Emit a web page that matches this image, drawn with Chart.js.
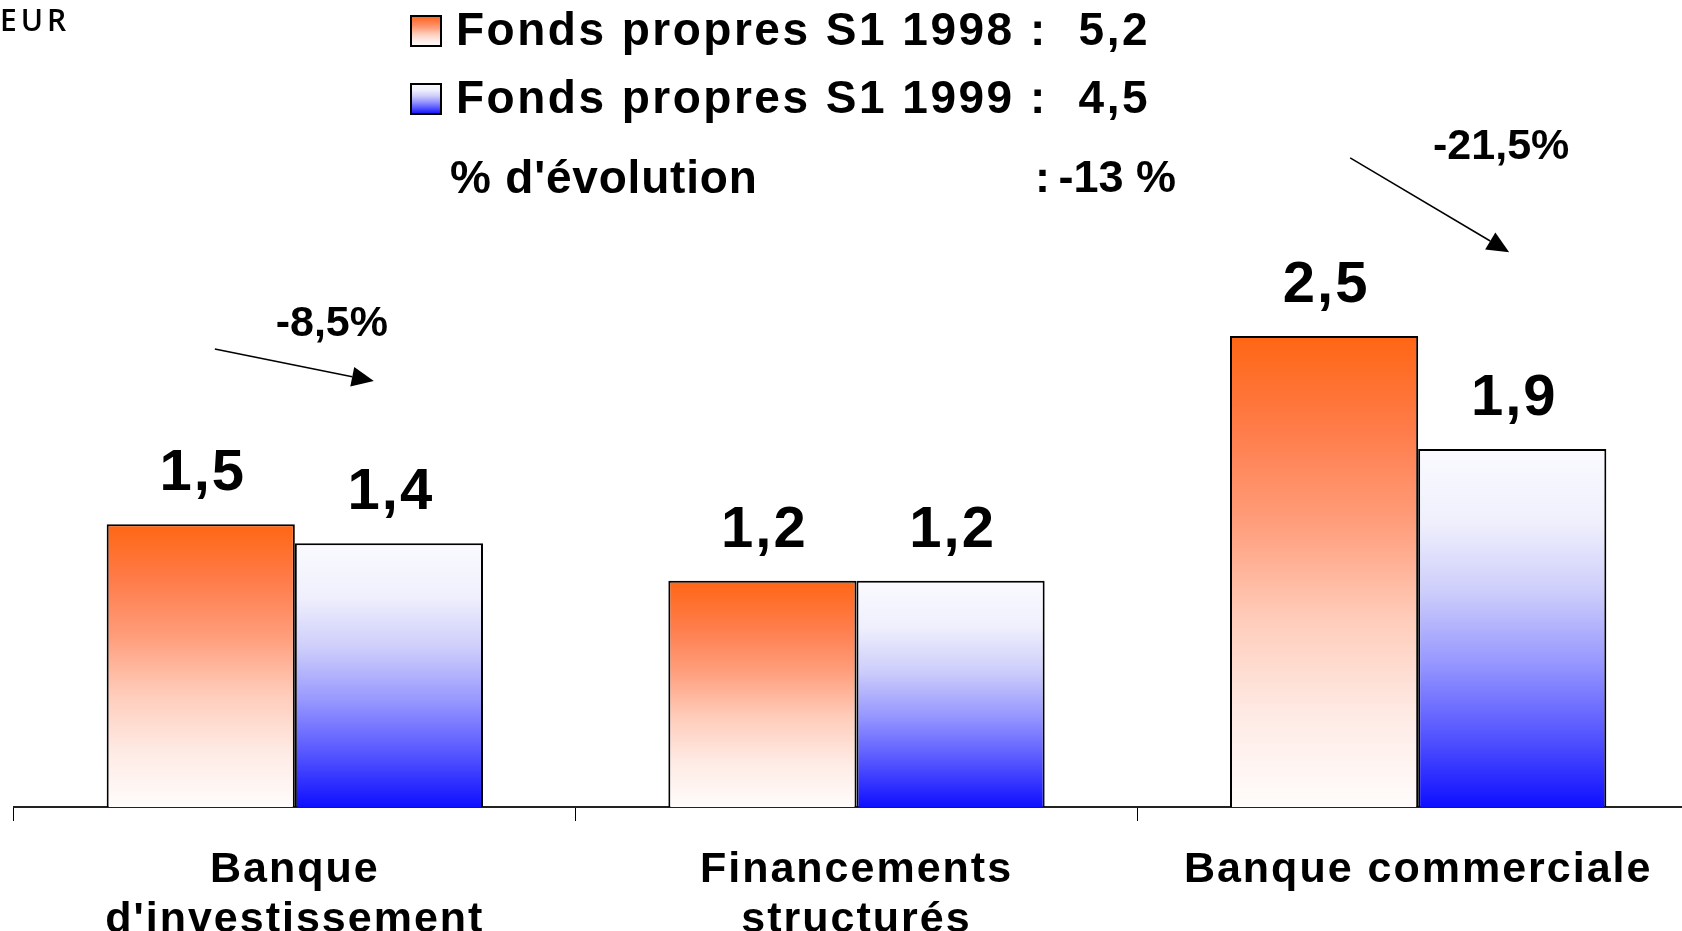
<!DOCTYPE html>
<html>
<head>
<meta charset="utf-8">
<script src="https://cdn.jsdelivr.net/npm/chart.js@4"></script>
<style>
  html, body { margin: 0; padding: 0; background: #fff; overflow: hidden; }
  #wrap { width: 1682px; height: 931px; overflow: hidden; position: relative; }
  canvas { display: block; }
</style>
</head>
<body>
<div id="wrap"><canvas id="chart" width="1700" height="931"></canvas></div>
<script>
// --- Données ---
const categories = [['Banque', "d'investissement"], ['Financements', 'structurés'], ['Banque commerciale']];
const seriesNames = ['Fonds propres S1 1998', 'Fonds propres S1 1999'];
const values1998 = [1.5, 1.2, 2.5];
const values1999 = [1.4, 1.2, 1.9];
const seriesTotals = [5.2, 4.5];
const evolutionLabel = "% d'évolution";
const evolutionTotal = '-13 %';
const changeLabels = ['-8,5%', '', '-21,5%'];
const unitLabel = 'EUR';

// --- Dégradés ---
const orangeStops = [[0, '#FF6614'], [0.2, '#FF7C4A'], [0.4, '#FF9E7C'], [0.6, '#FFCCBA'], [0.8, '#FEEAE4'], [1, '#FFFCFB']];
const blueStops = [[0, '#FAFAFF'], [0.2, '#F0F0FD'], [0.4, '#CDCDFB'], [0.6, '#9696FF'], [0.8, '#5555FF'], [1, '#0F0FFF']];

const fmt = (v) => String(v).replace('.', ',');

function makeGradient(ctx, top, bottom, stops) {
    const g = ctx.createLinearGradient(0, top, 0, bottom);
    stops.forEach(([p, c]) => g.addColorStop(p, c));
    return g;
}

function barFill(stops) {
    return (c) => {
        const chart = c.chart;
        if (!chart.chartArea || c.type !== 'data') return stops[2][1];
        const y = chart.scales.y;
        return makeGradient(chart.ctx, y.getPixelForValue(c.parsed.y), y.getPixelForValue(0), stops);
    };
}

// --- Légende, étiquettes et flèches ---
const decorPlugin = {
    id: 'decor',
    beforeDraw(chart) {
        // espacement des lettres pour les libellés de l'axe
        chart.ctx.letterSpacing = '2px';
    },
    beforeDatasetsDraw(chart) {
        chart.ctx.letterSpacing = '0px';
    },
    afterDatasetsDraw(chart) {
        const ctx = chart.ctx;
        const x = chart.scales.x, y = chart.scales.y;
        ctx.save();
        ctx.fillStyle = '#000';

        // valeurs au-dessus des barres
        ctx.font = 'bold 58px "Liberation Sans", Arial, sans-serif';
        ctx.letterSpacing = '2px';
        ctx.textAlign = 'center';
        ctx.textBaseline = 'alphabetic';
        chart.data.datasets.forEach((ds, di) => {
            chart.getDatasetMeta(di).data.forEach((bar, i) => {
                ctx.fillText(fmt(ds.data[i]), bar.x + 2, bar.y - 34);
            });
        });

        // flèches d'évolution
        const arrows = [
            { i: 0, dx1: -80, v1: 2.43, dx2: 79, v2: 2.26, tdx: 37, tv: 2.565 },
            { i: 2, dx1: -68, v1: 3.445, dx2: 91, v2: 2.944, tdx: 83, tv: 3.5 }
        ];
        ctx.letterSpacing = '0px';
        ctx.font = 'bold 43px "Liberation Sans", Arial, sans-serif';
        ctx.textBaseline = 'middle';
        arrows.forEach(a => {
            const cx = x.getPixelForValue(a.i);
            const x1 = cx + a.dx1, y1 = y.getPixelForValue(a.v1);
            const x2 = cx + a.dx2, y2 = y.getPixelForValue(a.v2);
            const ang = Math.atan2(y2 - y1, x2 - x1);
            const len = 22, hw = 10;
            const bx = x2 - len * Math.cos(ang), by = y2 - len * Math.sin(ang);
            ctx.strokeStyle = '#000';
            ctx.lineWidth = 1.5;
            ctx.beginPath();
            ctx.moveTo(x1, y1);
            ctx.lineTo(bx, by);
            ctx.stroke();
            ctx.beginPath();
            ctx.moveTo(x2, y2);
            ctx.lineTo(bx + hw * Math.sin(ang), by - hw * Math.cos(ang));
            ctx.lineTo(bx - hw * Math.sin(ang), by + hw * Math.cos(ang));
            ctx.closePath();
            ctx.fill();
            ctx.fillText(changeLabels[a.i], cx + a.tdx, y.getPixelForValue(a.tv));
        });

        // légende
        const stops = [orangeStops, blueStops];
        const rows = [31, 99];
        ctx.textAlign = 'left';
        rows.forEach((ry, k) => {
            ctx.fillStyle = makeGradient(ctx, ry - 15, ry + 15, stops[k]);
            ctx.fillRect(411, ry - 15, 30, 30);
            ctx.strokeStyle = '#000';
            ctx.lineWidth = 2;
            ctx.strokeRect(411, ry - 15, 30, 30);
            ctx.fillStyle = '#000';
            ctx.font = 'bold 46px "Liberation Sans", Arial, sans-serif';
            ctx.letterSpacing = '2.5px';
            ctx.textAlign = 'left';
            ctx.fillText(seriesNames[k] + ' :', 456, ry + 1);
            ctx.textAlign = 'right';
            ctx.fillText(fmt(seriesTotals[k]), 1150, ry + 1);
        });
        ctx.textAlign = 'left';
        ctx.letterSpacing = '0.8px';
        ctx.font = 'bold 46px "Liberation Sans", Arial, sans-serif';
        ctx.fillText(evolutionLabel, 450, 180);
        ctx.letterSpacing = '0px';
        ctx.font = 'bold 45px "Liberation Sans", Arial, sans-serif';
        ctx.fillText(':', 1035, 180);
        ctx.textAlign = 'right';
        ctx.fillText(evolutionTotal, 1176, 180);

        // unité en haut à gauche
        ctx.textAlign = 'left';
        ctx.font = '600 30px "Open Sans", sans-serif';
        ctx.letterSpacing = '4px';
        ctx.textBaseline = 'alphabetic';
        ctx.fillText(unitLabel, 0, 31);
        ctx.restore();
    }
};

new Chart(document.getElementById('chart'), {
    type: 'bar',
    data: {
        labels: categories,
        datasets: [
            { label: seriesNames[0], data: values1998, backgroundColor: barFill(orangeStops),
              borderColor: '#000', borderWidth: 2, categoryPercentage: 0.67, barPercentage: 1 },
            { label: seriesNames[1], data: values1999, backgroundColor: barFill(blueStops),
              borderColor: '#000', borderWidth: 2, categoryPercentage: 0.67, barPercentage: 1 }
        ]
    },
    options: {
        responsive: false,
        animation: false,
        layout: { padding: { top: 57, left: 14, right: 1, bottom: 0 } },
        plugins: { legend: { display: false }, title: { display: false }, tooltip: { enabled: false } },
        scales: {
            y: { display: false, min: 0, max: 3.98 },
            x: {
                afterFit: (scale) => { scale.height = 124; },
                border: { display: true, color: '#222', width: 2 },
                grid: { drawOnChartArea: false, drawTicks: true, tickLength: 14, color: '#000', lineWidth: 1, offset: true },
                ticks: {
                    color: '#000', padding: 24, maxRotation: 0, autoSkip: false,
                    font: { family: '"Liberation Sans", Arial, sans-serif', size: 43, weight: 'bold', lineHeight: 1.16 }
                }
            }
        }
    },
    plugins: [decorPlugin]
});
</script>
</body>
</html>
